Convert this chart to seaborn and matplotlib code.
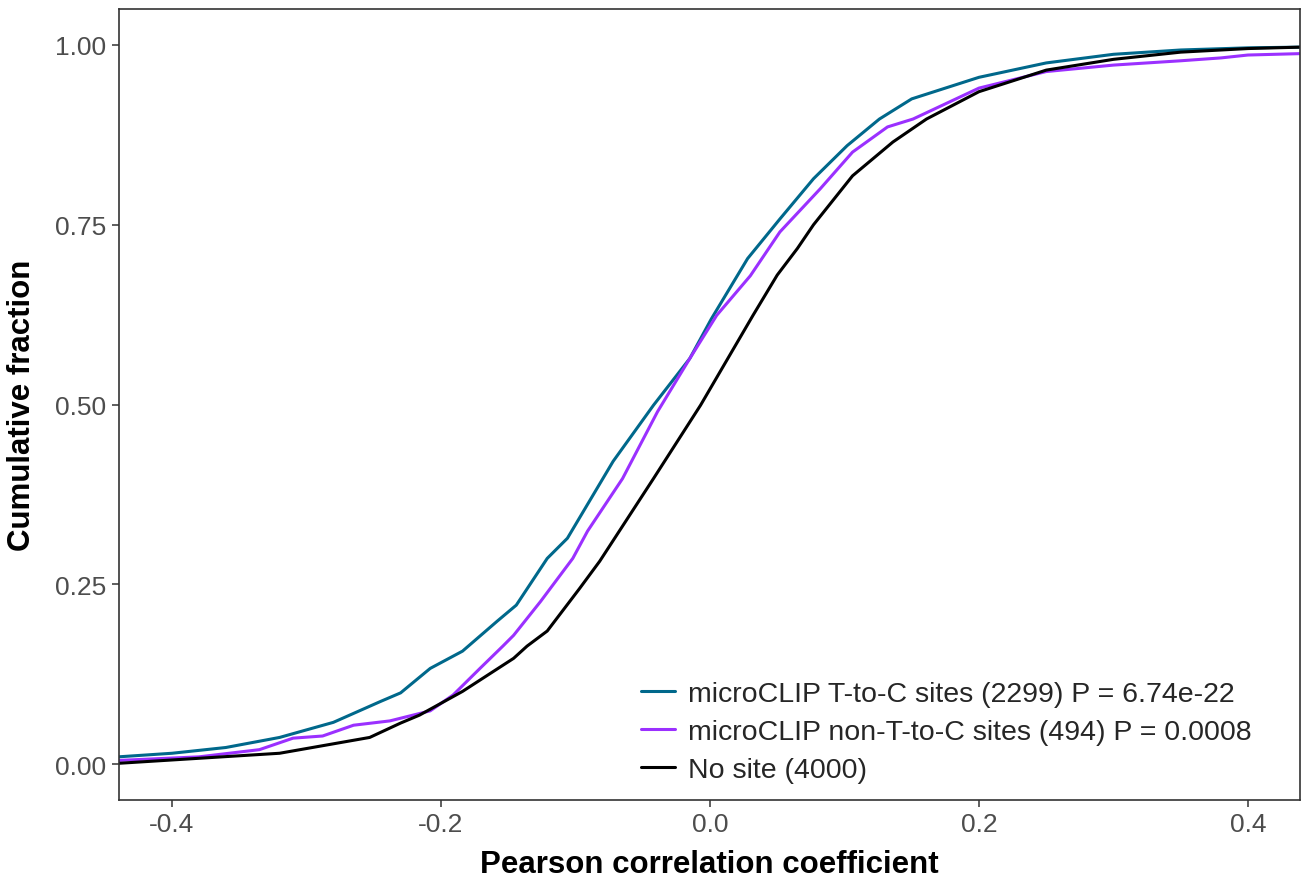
import matplotlib
matplotlib.use("Agg")
import matplotlib.pyplot as plt
import seaborn as sns
import pandas as pd

# ---- data (cumulative fraction vs Pearson r) ----
tc_x = [-0.44, -0.40, -0.36, -0.32, -0.28, -0.245, -0.23, -0.208, -0.184, -0.158,
        -0.144, -0.121, -0.106, -0.072, -0.042, -0.015, 0.001, 0.028, 0.052, 0.077,
        0.102, 0.126, 0.15, 0.2, 0.25, 0.3, 0.35, 0.4, 0.44]
tc_y = [0.010, 0.015, 0.023, 0.037, 0.058, 0.087, 0.099, 0.133, 0.157, 0.199,
        0.221, 0.286, 0.314, 0.421, 0.499, 0.564, 0.619, 0.703, 0.758, 0.814,
        0.860, 0.897, 0.925, 0.955, 0.975, 0.987, 0.993, 0.996, 0.997]

ntc_x = [-0.44, -0.38, -0.335, -0.31, -0.288, -0.265, -0.238, -0.208, -0.191, -0.171,
         -0.154, -0.146, -0.126, -0.102, -0.091, -0.065, -0.039, -0.015, 0.005, 0.030,
         0.052, 0.082, 0.106, 0.132, 0.151, 0.2, 0.25, 0.3, 0.35, 0.38, 0.4, 0.44]
ntc_y = [0.005, 0.010, 0.020, 0.036, 0.039, 0.054, 0.060, 0.074, 0.096, 0.133,
         0.164, 0.179, 0.226, 0.286, 0.324, 0.397, 0.490, 0.564, 0.624, 0.679,
         0.740, 0.800, 0.851, 0.886, 0.897, 0.940, 0.963, 0.972, 0.978, 0.982, 0.986, 0.988]

ns_x = [-0.44, -0.38, -0.32, -0.253, -0.23, -0.216, -0.184, -0.146, -0.136, -0.121,
        -0.097, -0.082, -0.042, -0.007, 0.032, 0.05, 0.065, 0.077, 0.106, 0.136,
        0.161, 0.2, 0.25, 0.3, 0.35, 0.4, 0.44]
ns_y = [0.001, 0.008, 0.015, 0.037, 0.057, 0.068, 0.101, 0.147, 0.164, 0.185,
        0.244, 0.282, 0.397, 0.499, 0.624, 0.680, 0.717, 0.750, 0.818, 0.865,
        0.897, 0.935, 0.965, 0.980, 0.990, 0.995, 0.997]

series_labels = ["microCLIP T-to-C sites (2299) P = 6.74e-22",
                 "microCLIP non-T-to-C sites (494) P = 0.0008",
                 "No site (4000)"]
series_colors = ["#00688B", "#9B30FF", "#000000"]
x_ticks = [-0.4, -0.2, 0.0, 0.2, 0.4]
y_ticks = [0.00, 0.25, 0.50, 0.75, 1.00]

df = pd.concat([
    pd.DataFrame({"r": tc_x, "frac": tc_y, "group": series_labels[0]}),
    pd.DataFrame({"r": ntc_x, "frac": ntc_y, "group": series_labels[1]}),
    pd.DataFrame({"r": ns_x, "frac": ns_y, "group": series_labels[2]}),
], ignore_index=True)

sns.set_theme(style="white")
plt.rcParams["font.family"] = ["Liberation Sans", "DejaVu Sans"]

fig = plt.figure(figsize=(13.02, 8.78), dpi=100)
ax = fig.add_axes([119 / 1302, 1 - 801 / 878, 1181 / 1302, 791 / 878])

sns.lineplot(data=df, x="r", y="frac", hue="group", hue_order=series_labels,
             palette=dict(zip(series_labels, series_colors)), estimator=None,
             sort=False, linewidth=2.2, ax=ax)

ax.set_xlim(-0.4394, 0.4387)
ax.set_ylim(-0.05, 1.05)
ax.set_xticks(x_ticks)
ax.set_xticklabels(["-0.4", "-0.2", "0.0", "0.2", "0.4"])
ax.set_yticks(y_ticks)
ax.set_yticklabels(["0.00", "0.25", "0.50", "0.75", "1.00"])
ax.tick_params(axis="both", which="both", direction="out", length=5, width=1.1,
               color="#333333", labelcolor="#4D4D4D", labelsize=19, pad=4,
               bottom=True, left=True)
for s in ax.spines.values():
    s.set_visible(True)
    s.set_color("#333333")
    s.set_linewidth(1.2)
ax.grid(False)
ax.set_facecolor("white")

ax.set_xlabel("Pearson correlation coefficient", fontsize=22.5, fontweight="bold",
              color="black", labelpad=9)
ax.set_ylabel("Cumulative fraction", fontsize=22.5, fontweight="bold",
              color="black", labelpad=13)

leg = ax.legend(title=None, loc="lower left", bbox_to_anchor=(0.42, -0.011),
                frameon=False, fontsize=20.5, handlelength=1.2, handletextpad=0.45,
                labelspacing=0.42)
for line in leg.get_lines():
    line.set_linewidth(2.2)

fig.savefig("out.png", dpi=100)
